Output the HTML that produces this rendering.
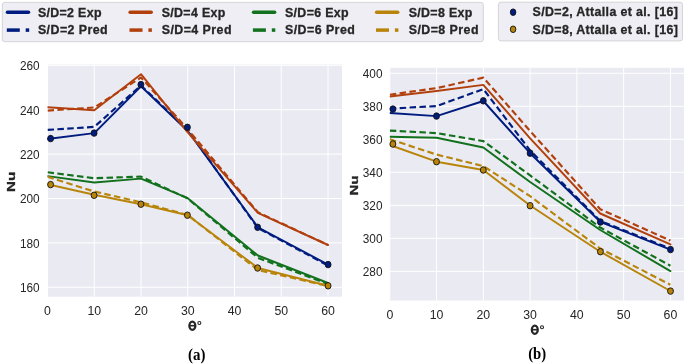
<!DOCTYPE html>
<html><head><meta charset="utf-8"><style>
html,body{margin:0;padding:0;background:#fff;}
svg{display:block;will-change:transform;}
.tk{font-family:"Liberation Sans",sans-serif;font-size:12.3px;fill:#262626;}
.lg{font-family:"Liberation Sans",sans-serif;font-size:12.4px;font-weight:bold;fill:#262626;stroke:#262626;stroke-width:0.3px;}
.al{font-family:"Liberation Sans",sans-serif;font-size:12.6px;font-weight:bold;fill:#262626;}
.nu{font-family:"Liberation Sans",sans-serif;font-size:11.6px;font-weight:bold;fill:#262626;stroke:#262626;stroke-width:0.3px;}
.cap{font-family:"Liberation Serif",serif;font-size:16.5px;font-weight:bold;fill:#000;}
</style></head><body>
<svg width="685" height="364" viewBox="0 0 685 364">
<rect width="685" height="364" fill="#fff"/>
<clipPath id="cl"><rect x="47.5" y="64.5" width="294.5" height="232.2"/></clipPath>
<rect x="47.5" y="64.5" width="294.5" height="232.2" fill="#eaeaf2"/>
<line x1="47.5" y1="64.5" x2="47.5" y2="296.7" stroke="#fff" stroke-width="1"/>
<line x1="94.25" y1="64.5" x2="94.25" y2="296.7" stroke="#fff" stroke-width="1"/>
<line x1="141" y1="64.5" x2="141" y2="296.7" stroke="#fff" stroke-width="1"/>
<line x1="187.75" y1="64.5" x2="187.75" y2="296.7" stroke="#fff" stroke-width="1"/>
<line x1="234.5" y1="64.5" x2="234.5" y2="296.7" stroke="#fff" stroke-width="1"/>
<line x1="281.25" y1="64.5" x2="281.25" y2="296.7" stroke="#fff" stroke-width="1"/>
<line x1="328" y1="64.5" x2="328" y2="296.7" stroke="#fff" stroke-width="1"/>
<line x1="47.5" y1="65.3" x2="342" y2="65.3" stroke="#fff" stroke-width="1"/>
<line x1="47.5" y1="109.7" x2="342" y2="109.7" stroke="#fff" stroke-width="1"/>
<line x1="47.5" y1="154.1" x2="342" y2="154.1" stroke="#fff" stroke-width="1"/>
<line x1="47.5" y1="198.5" x2="342" y2="198.5" stroke="#fff" stroke-width="1"/>
<line x1="47.5" y1="242.9" x2="342" y2="242.9" stroke="#fff" stroke-width="1"/>
<line x1="47.5" y1="287.3" x2="342" y2="287.3" stroke="#fff" stroke-width="1"/>
<g clip-path="url(#cl)" fill="none" stroke-linejoin="round">
<polyline points="47.5,139 94.25,133.1 141,86.3 187.75,131 257.88,227.3 328,264.6" stroke="#001c7f" stroke-width="1.95" stroke-linecap="round"/>
<polyline points="47.5,129.9 94.25,126.9 141,85.5 187.75,130 257.88,228 328,265.5" stroke="#001c7f" stroke-width="2.15" stroke-dasharray="6.5 3.4"/>
<polyline points="47.5,107.3 94.25,110.2 141,74.2 187.75,132.3 257.88,212.8 328,245" stroke="#b1400d" stroke-width="1.95" stroke-linecap="round"/>
<polyline points="47.5,110.6 94.25,107.5 141,77.5 187.75,129.3 257.88,212.3 328,245" stroke="#b1400d" stroke-width="2.15" stroke-dasharray="6.5 3.4"/>
<polyline points="47.5,176.1 94.25,182.5 141,178.6 187.75,198.2 257.88,255.5 328,283" stroke="#12711c" stroke-width="1.95" stroke-linecap="round"/>
<polyline points="47.5,172.3 94.25,178.2 141,176.6 187.75,198.5 257.88,257.8 328,284" stroke="#12711c" stroke-width="2.15" stroke-dasharray="6.5 3.4"/>
<polyline points="47.5,184.3 94.25,194.8 141,204.2 187.75,215.2 257.88,268 328,285.8" stroke="#b8850a" stroke-width="1.95" stroke-linecap="round"/>
<polyline points="47.5,176.8 94.25,191.5 141,202.3 187.75,215 257.88,270 328,286" stroke="#b8850a" stroke-width="2.15" stroke-dasharray="6.5 3.4"/>
</g>
<ellipse cx="50.6" cy="138.6" rx="2.95" ry="3.25" fill="#001c7f" stroke="#111" stroke-width="0.9"/>
<ellipse cx="94.1" cy="133.1" rx="2.95" ry="3.25" fill="#001c7f" stroke="#111" stroke-width="0.9"/>
<ellipse cx="140.9" cy="84.6" rx="2.95" ry="3.25" fill="#001c7f" stroke="#111" stroke-width="0.9"/>
<ellipse cx="187.4" cy="127.3" rx="2.95" ry="3.25" fill="#001c7f" stroke="#111" stroke-width="0.9"/>
<ellipse cx="257.6" cy="227.3" rx="2.95" ry="3.25" fill="#001c7f" stroke="#111" stroke-width="0.9"/>
<ellipse cx="328.1" cy="264.6" rx="2.95" ry="3.25" fill="#001c7f" stroke="#111" stroke-width="0.9"/>
<ellipse cx="50.6" cy="184.6" rx="2.95" ry="3.25" fill="#b8850a" stroke="#111" stroke-width="0.9"/>
<ellipse cx="94.1" cy="195.3" rx="2.95" ry="3.25" fill="#b8850a" stroke="#111" stroke-width="0.9"/>
<ellipse cx="140.9" cy="204.2" rx="2.95" ry="3.25" fill="#b8850a" stroke="#111" stroke-width="0.9"/>
<ellipse cx="187.4" cy="215.2" rx="2.95" ry="3.25" fill="#b8850a" stroke="#111" stroke-width="0.9"/>
<ellipse cx="257.6" cy="268" rx="2.95" ry="3.25" fill="#b8850a" stroke="#111" stroke-width="0.9"/>
<ellipse cx="328.1" cy="285.8" rx="2.95" ry="3.25" fill="#b8850a" stroke="#111" stroke-width="0.9"/>
<text x="39.6" y="70.1" text-anchor="end" class="tk" textLength="19.7" lengthAdjust="spacingAndGlyphs">260</text>
<text x="39.6" y="114.5" text-anchor="end" class="tk" textLength="19.7" lengthAdjust="spacingAndGlyphs">240</text>
<text x="39.6" y="158.9" text-anchor="end" class="tk" textLength="19.7" lengthAdjust="spacingAndGlyphs">220</text>
<text x="39.6" y="203.3" text-anchor="end" class="tk" textLength="19.7" lengthAdjust="spacingAndGlyphs">200</text>
<text x="39.6" y="247.7" text-anchor="end" class="tk" textLength="19.7" lengthAdjust="spacingAndGlyphs">180</text>
<text x="39.6" y="292.1" text-anchor="end" class="tk" textLength="19.7" lengthAdjust="spacingAndGlyphs">160</text>
<text x="47.5" y="315.3" text-anchor="middle" class="tk">0</text>
<text x="94.25" y="315.3" text-anchor="middle" class="tk">10</text>
<text x="141" y="315.3" text-anchor="middle" class="tk">20</text>
<text x="187.75" y="315.3" text-anchor="middle" class="tk">30</text>
<text x="234.5" y="315.3" text-anchor="middle" class="tk">40</text>
<text x="281.25" y="315.3" text-anchor="middle" class="tk">50</text>
<text x="328" y="315.3" text-anchor="middle" class="tk">60</text>
<clipPath id="cr"><rect x="389.8" y="67.8" width="294.2" height="232.7"/></clipPath>
<rect x="389.8" y="67.8" width="294.2" height="232.7" fill="#eaeaf2"/>
<line x1="389.8" y1="67.8" x2="389.8" y2="300.5" stroke="#fff" stroke-width="1"/>
<line x1="436.57" y1="67.8" x2="436.57" y2="300.5" stroke="#fff" stroke-width="1"/>
<line x1="483.34" y1="67.8" x2="483.34" y2="300.5" stroke="#fff" stroke-width="1"/>
<line x1="530.11" y1="67.8" x2="530.11" y2="300.5" stroke="#fff" stroke-width="1"/>
<line x1="576.88" y1="67.8" x2="576.88" y2="300.5" stroke="#fff" stroke-width="1"/>
<line x1="623.65" y1="67.8" x2="623.65" y2="300.5" stroke="#fff" stroke-width="1"/>
<line x1="670.42" y1="67.8" x2="670.42" y2="300.5" stroke="#fff" stroke-width="1"/>
<line x1="389.8" y1="73.3" x2="684" y2="73.3" stroke="#fff" stroke-width="1"/>
<line x1="389.8" y1="106.3" x2="684" y2="106.3" stroke="#fff" stroke-width="1"/>
<line x1="389.8" y1="139.3" x2="684" y2="139.3" stroke="#fff" stroke-width="1"/>
<line x1="389.8" y1="172.3" x2="684" y2="172.3" stroke="#fff" stroke-width="1"/>
<line x1="389.8" y1="205.4" x2="684" y2="205.4" stroke="#fff" stroke-width="1"/>
<line x1="389.8" y1="238.4" x2="684" y2="238.4" stroke="#fff" stroke-width="1"/>
<line x1="389.8" y1="271.4" x2="684" y2="271.4" stroke="#fff" stroke-width="1"/>
<g clip-path="url(#cr)" fill="none" stroke-linejoin="round">
<polyline points="389.8,113 436.57,116.1 483.34,101 530.11,153.2 600.26,221.8 670.42,249.7" stroke="#001c7f" stroke-width="1.95" stroke-linecap="round"/>
<polyline points="389.8,108.6 436.57,106.1 483.34,89.1 530.11,150.5 600.26,221 670.42,248.6" stroke="#001c7f" stroke-width="2.15" stroke-dasharray="6.5 3.4"/>
<polyline points="389.8,96.5 436.57,91 483.34,84.9 530.11,138.3 600.26,213.5 670.42,244.4" stroke="#b1400d" stroke-width="1.95" stroke-linecap="round"/>
<polyline points="389.8,94.7 436.57,88.1 483.34,77.6 530.11,131 600.26,209.2 670.42,240.6" stroke="#b1400d" stroke-width="2.15" stroke-dasharray="6.5 3.4"/>
<polyline points="389.8,136.7 436.57,137.7 483.34,147.5 530.11,182 600.26,230 670.42,271.1" stroke="#12711c" stroke-width="1.95" stroke-linecap="round"/>
<polyline points="389.8,130.6 436.57,133.1 483.34,141.1 530.11,175.4 600.26,227.5 670.42,265.7" stroke="#12711c" stroke-width="2.15" stroke-dasharray="6.5 3.4"/>
<polyline points="389.8,145 436.57,161.7 483.34,170 530.11,205.5 600.26,251.7 670.42,291" stroke="#b8850a" stroke-width="1.95" stroke-linecap="round"/>
<polyline points="389.8,139.2 436.57,154.6 483.34,166.1 530.11,196.2 600.26,248.5 670.42,284.8" stroke="#b8850a" stroke-width="2.15" stroke-dasharray="6.5 3.4"/>
</g>
<ellipse cx="392.9" cy="109.1" rx="2.95" ry="3.25" fill="#001c7f" stroke="#111" stroke-width="0.9"/>
<ellipse cx="436.5" cy="116.1" rx="2.95" ry="3.25" fill="#001c7f" stroke="#111" stroke-width="0.9"/>
<ellipse cx="483.3" cy="100.8" rx="2.95" ry="3.25" fill="#001c7f" stroke="#111" stroke-width="0.9"/>
<ellipse cx="530.1" cy="153.2" rx="2.95" ry="3.25" fill="#001c7f" stroke="#111" stroke-width="0.9"/>
<ellipse cx="600.4" cy="222" rx="2.95" ry="3.25" fill="#001c7f" stroke="#111" stroke-width="0.9"/>
<ellipse cx="670.5" cy="249.6" rx="2.95" ry="3.25" fill="#001c7f" stroke="#111" stroke-width="0.9"/>
<ellipse cx="392.9" cy="144" rx="2.95" ry="3.25" fill="#b8850a" stroke="#111" stroke-width="0.9"/>
<ellipse cx="436.5" cy="161.7" rx="2.95" ry="3.25" fill="#b8850a" stroke="#111" stroke-width="0.9"/>
<ellipse cx="483.3" cy="170" rx="2.95" ry="3.25" fill="#b8850a" stroke="#111" stroke-width="0.9"/>
<ellipse cx="530.1" cy="205.7" rx="2.95" ry="3.25" fill="#b8850a" stroke="#111" stroke-width="0.9"/>
<ellipse cx="600.4" cy="251.7" rx="2.95" ry="3.25" fill="#b8850a" stroke="#111" stroke-width="0.9"/>
<ellipse cx="670.5" cy="291.1" rx="2.95" ry="3.25" fill="#b8850a" stroke="#111" stroke-width="0.9"/>
<text x="382.5" y="78.3" text-anchor="end" class="tk" textLength="19.7" lengthAdjust="spacingAndGlyphs">400</text>
<text x="382.5" y="111.3" text-anchor="end" class="tk" textLength="19.7" lengthAdjust="spacingAndGlyphs">380</text>
<text x="382.5" y="144.3" text-anchor="end" class="tk" textLength="19.7" lengthAdjust="spacingAndGlyphs">360</text>
<text x="382.5" y="177.3" text-anchor="end" class="tk" textLength="19.7" lengthAdjust="spacingAndGlyphs">340</text>
<text x="382.5" y="210.4" text-anchor="end" class="tk" textLength="19.7" lengthAdjust="spacingAndGlyphs">320</text>
<text x="382.5" y="243.4" text-anchor="end" class="tk" textLength="19.7" lengthAdjust="spacingAndGlyphs">300</text>
<text x="382.5" y="276.4" text-anchor="end" class="tk" textLength="19.7" lengthAdjust="spacingAndGlyphs">280</text>
<text x="389.8" y="319.2" text-anchor="middle" class="tk">0</text>
<text x="436.57" y="319.2" text-anchor="middle" class="tk">10</text>
<text x="483.34" y="319.2" text-anchor="middle" class="tk">20</text>
<text x="530.11" y="319.2" text-anchor="middle" class="tk">30</text>
<text x="576.88" y="319.2" text-anchor="middle" class="tk">40</text>
<text x="623.65" y="319.2" text-anchor="middle" class="tk">50</text>
<text x="670.42" y="319.2" text-anchor="middle" class="tk">60</text>
<rect x="2.3" y="2.4" width="481" height="39.3" rx="2.5" fill="#eeeef4" stroke="#d4d4d8" stroke-width="1"/>
<line x1="7.45" y1="12.3" x2="28.5" y2="12.3" stroke="#001c7f" stroke-width="3.5" stroke-linecap="round"/>
<line x1="6.8" y1="30.1" x2="19.8" y2="30.1" stroke="#001c7f" stroke-width="3.5"/>
<line x1="25.7" y1="30.1" x2="29.2" y2="30.1" stroke="#001c7f" stroke-width="3.5"/>
<text x="37.9" y="16.8" class="lg" textLength="63.6" lengthAdjust="spacing">S/D=2 Exp</text>
<text x="37.9" y="34.4" class="lg" textLength="69.8" lengthAdjust="spacing">S/D=2 Pred</text>
<line x1="130.15" y1="12.3" x2="151.2" y2="12.3" stroke="#b1400d" stroke-width="3.5" stroke-linecap="round"/>
<line x1="129.5" y1="30.1" x2="142.5" y2="30.1" stroke="#b1400d" stroke-width="3.5"/>
<line x1="148.4" y1="30.1" x2="151.9" y2="30.1" stroke="#b1400d" stroke-width="3.5"/>
<text x="161.7" y="16.8" class="lg" textLength="63.6" lengthAdjust="spacing">S/D=4 Exp</text>
<text x="161.7" y="34.4" class="lg" textLength="69.8" lengthAdjust="spacing">S/D=4 Pred</text>
<line x1="253.55" y1="12.3" x2="274.6" y2="12.3" stroke="#12711c" stroke-width="3.5" stroke-linecap="round"/>
<line x1="252.9" y1="30.1" x2="265.9" y2="30.1" stroke="#12711c" stroke-width="3.5"/>
<line x1="271.8" y1="30.1" x2="275.3" y2="30.1" stroke="#12711c" stroke-width="3.5"/>
<text x="285" y="16.8" class="lg" textLength="63.6" lengthAdjust="spacing">S/D=6 Exp</text>
<text x="285" y="34.4" class="lg" textLength="69.8" lengthAdjust="spacing">S/D=6 Pred</text>
<line x1="376.65" y1="12.3" x2="397.7" y2="12.3" stroke="#b8850a" stroke-width="3.5" stroke-linecap="round"/>
<line x1="376" y1="30.1" x2="389" y2="30.1" stroke="#b8850a" stroke-width="3.5"/>
<line x1="394.9" y1="30.1" x2="398.4" y2="30.1" stroke="#b8850a" stroke-width="3.5"/>
<text x="408.7" y="16.8" class="lg" textLength="63.6" lengthAdjust="spacing">S/D=8 Exp</text>
<text x="408.7" y="34.4" class="lg" textLength="69.8" lengthAdjust="spacing">S/D=8 Pred</text>
<rect x="498.4" y="2.2" width="184.1" height="38.7" rx="2.5" fill="#eeeef4" stroke="#d4d4d8" stroke-width="1"/>
<ellipse cx="513.1" cy="12.2" rx="2.75" ry="3.3" fill="#001c7f" stroke="#111" stroke-width="0.9"/>
<ellipse cx="513.1" cy="29.3" rx="2.75" ry="3.3" fill="#b8850a" stroke="#111" stroke-width="0.9"/>
<text x="532.6" y="16.4" class="lg" textLength="145.2" lengthAdjust="spacing">S/D=2, Attalla et al. [16]</text>
<text x="532.6" y="33.9" class="lg" textLength="145.2" lengthAdjust="spacing">S/D=8, Attalla et al. [16]</text>
<text transform="translate(15.1,192.0) rotate(-90)" class="nu" textLength="20.2" lengthAdjust="spacingAndGlyphs">Nu</text>
<text transform="translate(357.7,195.6) rotate(-90)" class="nu" textLength="20.1" lengthAdjust="spacingAndGlyphs">Nu</text>
<g fill="none" stroke="#262626"><ellipse cx="192.35" cy="325.7" rx="2.95" ry="4.1" stroke-width="2.3"/><line x1="189.35" y1="325.7" x2="195.35" y2="325.7" stroke-width="1.6"/><circle cx="199.35" cy="322.95" r="1.5" stroke-width="1.1"/></g>
<g fill="none" stroke="#262626"><ellipse cx="534.8" cy="329.7" rx="2.95" ry="4.1" stroke-width="2.3"/><line x1="531.8" y1="329.7" x2="537.8" y2="329.7" stroke-width="1.6"/><circle cx="542" cy="327.2" r="1.5" stroke-width="1.1"/></g>
<text x="188.0" y="359.8" class="cap" textLength="17.4" lengthAdjust="spacingAndGlyphs">(a)</text>
<text x="528.2" y="358.9" class="cap" textLength="18.0" lengthAdjust="spacingAndGlyphs">(b)</text>
</svg>
</body></html>
